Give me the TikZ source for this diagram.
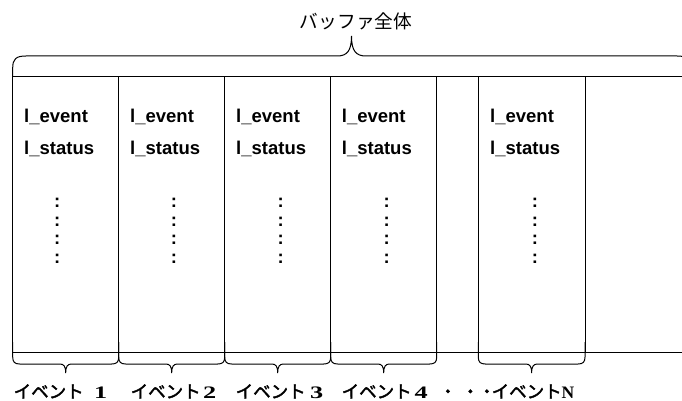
\documentclass[tikz,border=0pt]{standalone}
\usepackage{fontspec}
\usepackage{graphicx}
\setmainfont{Liberation Serif}
\newfontfamily\jp{Noto Sans CJK JP}
\newfontfamily\jpm[FakeBold=2]{Noto Sans CJK JP}
\newfontfamily\sansf{Liberation Sans}
\newcommand{\widedigit}[1]{\scalebox{1.5}[1]{\bfseries #1}}
\tikzset{
  frame/.style={line width=1pt, draw=black},
  fieldtxt/.style={font=\sansf\bfseries\fontsize{18.5}{22}\selectfont, anchor=base west, inner sep=0pt},
  dotstxt/.style={font=\sansf\bfseries\fontsize{18.5}{22}\selectfont, inner sep=0pt},
  evlabel/.style={font=\fontsize{17.5}{20}\selectfont, anchor=base west, inner sep=0pt},
  toplabel/.style={font=\jp\fontsize{18.7}{22}\selectfont, anchor=base, inner sep=0pt},
}
\begin{document}
\begin{tikzpicture}[x=1pt,y=-1pt]
\useasboundingbox (0,0) rectangle (682,401);
\clip (0,0) rectangle (682,401);
\fill[white] (0,0) rectangle (682,401);
% frame
\coordinate (tl) at (12.7,77);
\coordinate (bl) at (12.7,352);
\coordinate (tr) at (695,77);
\coordinate (br) at (695,352);
\draw[frame] (tr) -- (tl) -- (bl) -- (br);
\foreach \x [count=\i] in {118.7,224.7,330.7,436.7,478.3,585} {
  \coordinate (t\i) at (\x,77);
  \coordinate (b\i) at (\x,352);
  \draw[frame] (t\i) -- (b\i);
}
% field texts
\foreach \x/\d [count=\i] in {24/57.3,130/174,236/280.7,341.7/386.7,490/535} {
  \node[fieldtxt] (ev\i) at (\x,123) {l\_event};
  \node[fieldtxt] (st\i) at (\x,154) {l\_status};
  \foreach \y [count=\j] in {203.3,221.7,240,259.3} {
    \node[dotstxt] (c\i\j) at (\d,\y) {:};
  }
}
% top brace
\draw[frame] (12.7,77) -- (12.7,68) .. controls (12.7,59) and (16,56) .. (26,56)
  -- (337,56) .. controls (347,56) and (351.5,51) .. (351.5,36)
  .. controls (351.5,51) and (356,56) .. (366,56)
  -- (677,56) .. controls (687,56) and (690.3,59) .. (690.3,68) -- (690.3,77);
\node[toplabel] (buf) at (356,29) {バッファ全体};
% bottom braces
\foreach \a/\b in {12.7/118.7,118.7/224.7,224.7/330.7,330.7/436.7,478.3/585} {
  \pgfmathsetmacro\m{(\a+\b)/2}
  \draw[frame] (\a,342) -- (\a,357) .. controls (\a,362) and (\a+2,364) .. (\a+7,364)
    -- (\m-6,364) .. controls (\m-2,364) and (\m,366) .. (\m,373)
    .. controls (\m,366) and (\m+2,364) .. (\m+6,364)
    -- (\b-7,364) .. controls (\b-2,364) and (\b,362) .. (\b,357) -- (\b,342);
}
\node[evlabel] (l1) at (13.5,398) {{\jpm イベント}\hspace{10.5pt}\widedigit{1}};
\node[evlabel] (l2) at (130.5,398) {{\jpm イベント}\hspace{2.5pt}\widedigit{2}};
\node[evlabel] (l3) at (235.5,398) {{\jpm イベント}\hspace{4.5pt}\widedigit{3}};
\node[evlabel] (l4) at (341.5,398) {{\jpm イベント}\hspace{3pt}\widedigit{4}};
\node[evlabel] (l5) at (439,398) {{\jpm ・\hspace{5pt}・\hspace{-1pt}・\hspace{-4pt}イベント}{\bfseries N}};
\end{tikzpicture}
\end{document}
